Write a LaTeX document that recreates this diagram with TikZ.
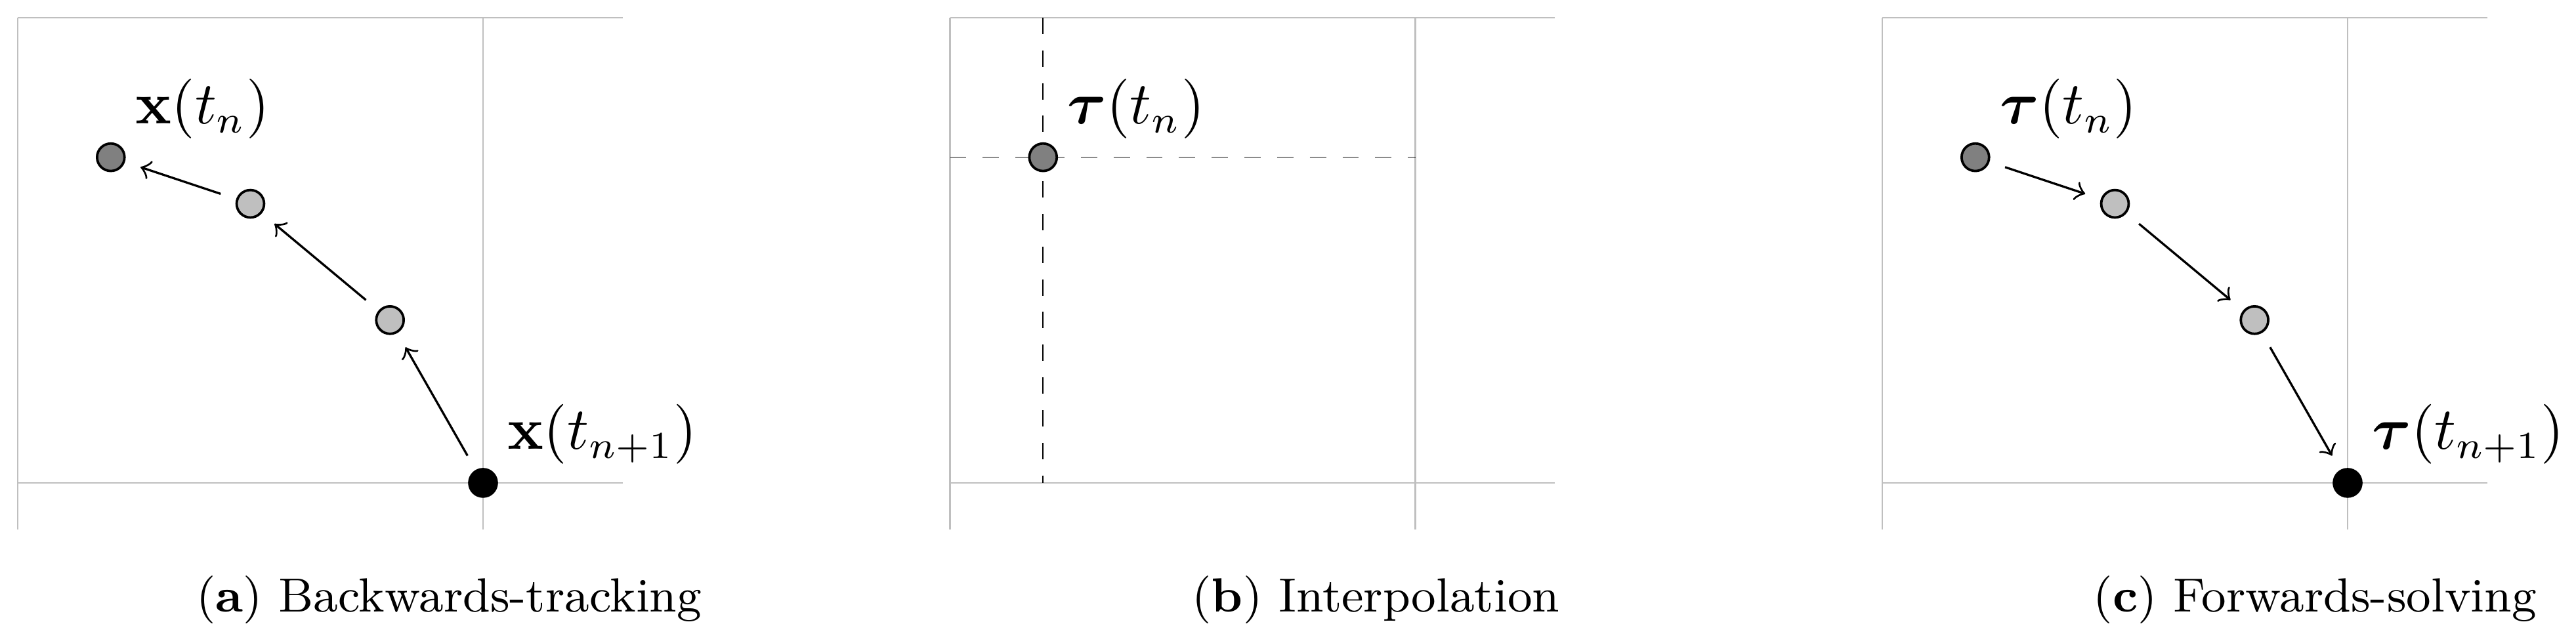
\documentclass[tikz,border=0pt]{standalone}
\usepackage{amsmath}
\usetikzlibrary{calc}
\begin{document}
\begin{tikzpicture}[x=3cm,y=3cm,
  gridline/.style={draw=lightgray, line width=0.25pt},
  dotbase/.style={circle, draw=black, line width=0.45pt, minimum size=5.04pt, inner sep=0pt},
  dotstart/.style={dotbase, fill=gray},
  dotmid/.style={dotbase, fill=lightgray},
  dotend/.style={dotbase, fill=black},
  conn/.style={->, line width=0.4pt, shorten >=3pt, shorten <=3pt},
  guide/.style={dashed, line width=0.2pt, draw=black},
  lab/.style={anchor=base west, inner sep=0pt, font=\fontsize{10.5}{12}\selectfont},
  subcaption/.style={anchor=base, inner sep=0pt, font=\fontsize{8.8}{11}\selectfont}]
\useasboundingbox (-0.03808,-0.34415) rectangle (5.4979,1.03808);

% ---------- panel (a) ----------
\begin{scope}
  \draw[gridline] (0,-0.1) -- (0,1) (1,-0.1) -- (1,1) (0,0) -- (1.3,0) (0,1) -- (1.3,1);
  \node[dotstart] (a1) at (0.2,0.7) {};
  \node[dotmid]   (a2) at (0.5,0.6) {};
  \node[dotmid]   (a3) at (0.8,0.35) {};
  \node[dotend]   (a4) at (1,0) {};
  \draw[conn] (a4) -- (a3);
  \draw[conn] (a3) -- (a2);
  \draw[conn] (a2) -- (a1);
  \node[lab] (la1) at ($(a1)+(0.0508,0.0719)$) {$\mathbf{x}(t_n)$};
  \node[lab] (la4) at ($(a4)+(0.0508,0.0719)$) {$\mathbf{x}(t_{n+1})$};
\end{scope}

% ---------- panel (b) ----------
\begin{scope}[shift={(2.00353,0)}]
  \draw[gridline] (0,-0.1) -- (0,1) (1,-0.1) -- (1,1) (0,0) -- (1.3,0) (0,1) -- (1.3,1);
  \coordinate (bh0) at (0,0.7);
  \coordinate (bh1) at (1,0.7);
  \coordinate (bv0) at (0.2,1);
  \coordinate (bv1) at (0.2,0);
  \draw[guide] (bh0) -- (bh1);
  \draw[guide] (bv0) -- (bv1);
  \node[dotstart] (b1) at (0.2,0.7) {};
  \node[lab] (lb1) at ($(b1)+(0.0508,0.0719)$) {$\boldsymbol{\tau}(t_n)$};
\end{scope}

% ---------- panel (c) ----------
\begin{scope}[shift={(4.00706,0)}]
  \draw[gridline] (0,-0.1) -- (0,1) (1,-0.1) -- (1,1) (0,0) -- (1.3,0) (0,1) -- (1.3,1);
  \node[dotstart] (c1) at (0.2,0.7) {};
  \node[dotmid]   (c2) at (0.5,0.6) {};
  \node[dotmid]   (c3) at (0.8,0.35) {};
  \node[dotend]   (c4) at (1,0) {};
  \draw[conn] (c1) -- (c2);
  \draw[conn] (c2) -- (c3);
  \draw[conn] (c3) -- (c4);
  \node[lab] (lc1) at ($(c1)+(0.0508,0.0719)$) {$\boldsymbol{\tau}(t_n)$};
  \node[lab] (lc4) at ($(c4)+(0.0508,0.0719)$) {$\boldsymbol{\tau}(t_{n+1})$};
\end{scope}

% ---------- captions ----------
\node[subcaption] (capa) at (0.927,-0.27786) {(\textbf{a}) Backwards-tracking};
\node[subcaption] (capb) at (2.919,-0.27786) {(\textbf{b}) Interpolation};
\node[subcaption] (capc) at (4.937,-0.27786) {(\textbf{c}) Forwards-solving};
\end{tikzpicture}
\end{document}
